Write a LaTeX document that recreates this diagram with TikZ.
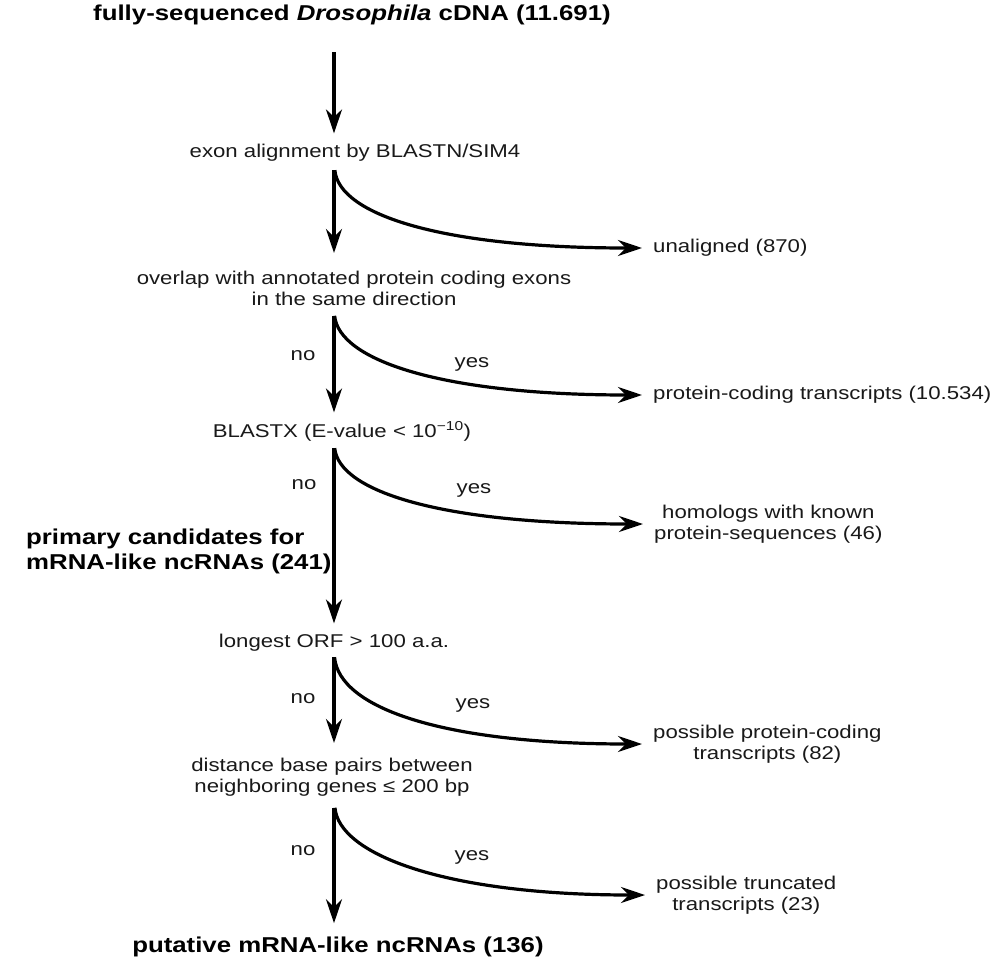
\documentclass[tikz,border=0pt]{standalone}
\usepackage{fontspec}
\setmainfont[FakeStretch=1.2]{Liberation Sans}
\usetikzlibrary{arrows.meta}
\newcommand\rs{\rule[-4pt]{0pt}{14pt}}
\newcommand\bs{\rule[-5pt]{0pt}{16pt}}
\begin{document}
\begin{tikzpicture}[x=1pt,y=-1pt,
  txt/.style={inner sep=0pt, font=\fontsize{18.5}{21}\selectfont, text=black!90},
  btxt/.style={inner sep=0pt, font=\fontsize{21.5}{25}\selectfont\bfseries, text=black},
  arr/.style={line width=3.2pt, draw=black, -{Stealth[length=24pt,width=16pt]}},
  branch/.style={arr, shorten >=11pt}]
\useasboundingbox[fill=white] (0,0) rectangle (990,958);
\coordinate (ax) at (334,0);

% main column
\node[btxt, anchor=base] (title) at (352,21) {fully-sequenced \textit{Drosophila} cDNA (11.691)\bs};
\node[txt, anchor=base] (exon) at (355,157) {exon alignment by BLASTN/SIM4\rs};
\node[txt, anchor=north, align=center] (overlap) at (354,271) {overlap with annotated protein coding exons\rs\\in the same direction\rs};
\node[txt, anchor=base] (blastx) at (342,437) {BLASTX (E-value < 10\textsuperscript{\smash{−10}})\rs};
\node[btxt, anchor=north west, align=left] (primary) at (26,529) {primary candidates for\bs\\mRNA-like ncRNAs (241)\bs};
\node[txt, anchor=base] (orf) at (334,647) {longest ORF > 100 a.a.\rs};
\node[txt, anchor=north, align=center] (dist) at (332,758) {distance base pairs between\rs\\neighboring genes ≤ 200 bp\rs};
\node[btxt, anchor=base] (put) at (338,952) {putative mRNA-like ncRNAs (136)\bs};

% right column
\node[txt, anchor=west] (unal) at (653,248) {unaligned (870)\rs};
\node[txt, anchor=west] (pct) at (653,395) {protein-coding transcripts (10.534)\rs};
\node[txt, anchor=west, align=center] (hom) at (654,524) {homologs with known\rs\\protein-sequences (46)\rs};
\node[txt, anchor=west, align=center] (ppc) at (653,744) {possible protein-coding\rs\\transcripts (82)\rs};
\node[txt, anchor=west, align=center] (trunc) at (656,895) {possible truncated\rs\\transcripts (23)\rs};

% no / yes labels
\node[txt, anchor=base] (no1) at (303,360) {no};
\node[txt, anchor=base] (yes1) at (472,367) {yes};
\node[txt, anchor=base] (no2) at (304,489) {no};
\node[txt, anchor=base] (yes2) at (474,493) {yes};
\node[txt, anchor=base] (no3) at (303,703) {no};
\node[txt, anchor=base] (yes3) at (473,708) {yes};
\node[txt, anchor=base] (no4) at (303,855) {no};
\node[txt, anchor=base] (yes4) at (472,860) {yes};

% main arrows
\draw[arr, shorten <=26pt, shorten >=10pt] (title.south -| ax) -- (exon.north -| ax);
\draw[arr, shorten <=9pt, shorten >=18pt] (exon.south -| ax) -- (overlap.north -| ax);
\draw[arr, shorten <=6pt, shorten >=11pt] (overlap.south -| ax) -- (blastx.north -| ax);
\draw[arr, shorten <=7pt, shorten >=10pt] (blastx.south -| ax) -- (orf.north -| ax);
\draw[arr, shorten <=6pt, shorten >=15pt] (orf.south -| ax) -- (dist.north -| ax);
\draw[arr, shorten <=11pt, shorten >=13pt] (dist.south -| ax) -- (put.north -| ax);

% branches
\draw[branch, shorten <=9pt] (exon.south -| ax) .. controls +(5,54) and +(-210,0) .. (unal.west);
\draw[branch, shorten <=6pt] (overlap.south -| ax) .. controls +(5,51) and +(-210,0) .. (pct.west);
\draw[branch, shorten <=7pt] (blastx.south -| ax) .. controls +(5,51) and +(-210,0) .. (hom.west);
\draw[branch, shorten <=6pt] (orf.south -| ax) .. controls +(5,57) and +(-210,0) .. (ppc.west);
\draw[branch, shorten <=11pt] (dist.south -| ax) .. controls +(5,58) and +(-210,0) .. (trunc.west);
\end{tikzpicture}
\end{document}
